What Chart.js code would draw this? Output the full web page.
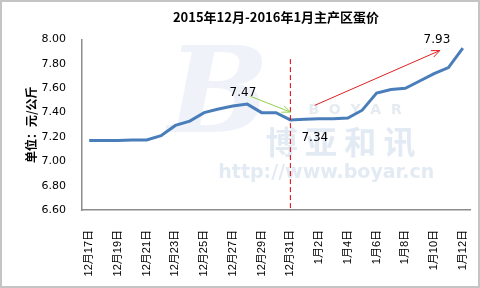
<!DOCTYPE html>
<html>
<head>
<meta charset="utf-8">
<script src="https://cdn.jsdelivr.net/npm/chart.js@4.4.1/dist/chart.umd.min.js"></script>
<style>
  html, body { margin: 0; padding: 0; background: #fff; }
  #wrap { width: 480px; height: 288px; }
</style>
</head>
<body>
<div id="wrap"><canvas id="price"></canvas></div>
<script>
var days = ['12月17日', '12月18日', '12月19日', '12月20日', '12月21日', '12月22日', '12月23日',
    '12月24日', '12月25日', '12月26日', '12月27日', '12月28日', '12月29日', '12月30日', '12月31日',
    '1月1日', '1月2日', '1月3日', '1月4日', '1月5日', '1月6日', '1月7日', '1月8日', '1月9日',
    '1月10日', '1月11日', '1月12日'];
var prices = [7.17, 7.17, 7.17, 7.175, 7.175, 7.21, 7.295, 7.33, 7.40, 7.43, 7.455, 7.47, 7.40, 7.40, 7.34,
    7.345, 7.35, 7.35, 7.355, 7.42, 7.56, 7.59, 7.60, 7.66, 7.72, 7.77, 7.93];
var yTicks = [6.6, 6.8, 7.0, 7.2, 7.4, 7.6, 7.8, 8.0];

// notes drawn over the plot, placed in data space (category index, value)
var notes = [
    { text: '7.47', x: 10.7, y: 7.56 },
    { text: '7.34', x: 15.7, y: 7.19 },
    { text: '7.93', x: 24.2, y: 8.0 }
];
var arrows = [
    { from: [11.2, 7.535], to: [14.0, 7.405], color: '#92d050' },
    { from: [15.7, 7.46], to: [24.4, 7.91], color: '#e02020' }
];
var splitIndex = 14;
var splitTop = 7.84;

function arrow(ctx, x1, y1, x2, y2, color) {
    var a = Math.atan2(y2 - y1, x2 - x1);
    ctx.save();
    ctx.strokeStyle = color;
    ctx.lineWidth = 1;
    ctx.beginPath();
    ctx.moveTo(x1, y1);
    ctx.lineTo(x2, y2);
    ctx.moveTo(x2 - 9 * Math.cos(a - 0.4), y2 - 9 * Math.sin(a - 0.4));
    ctx.lineTo(x2, y2);
    ctx.lineTo(x2 - 9 * Math.cos(a + 0.4), y2 - 9 * Math.sin(a + 0.4));
    ctx.stroke();
    ctx.restore();
}

var watermark = {
    id: 'watermark',
    beforeDatasetsDraw(chart) {
        var ctx = chart.ctx, x = chart.scales.x, y = chart.scales.y;
        ctx.save();
        ctx.font = 'italic bold 120px "DejaVu Serif"';
        ctx.fillStyle = 'rgba(210,222,238,0.35)';
        ctx.textAlign = 'center';
        ctx.textBaseline = 'middle';
        ctx.fillText('B', x.getPixelForValue(9), y.getPixelForValue(7.5));
        ctx.font = 'bold 14px "DejaVu Sans"';
        ctx.fillStyle = 'rgba(220,226,234,0.7)';
        ctx.fillText('B  O  Y  A  R', x.getPixelForValue(18.5), y.getPixelForValue(7.42));
        ctx.font = 'bold 32px "Noto Sans CJK SC"';
        ctx.fillStyle = 'rgba(210,222,236,0.65)';
        ctx.fillText('博 亚 和 讯', x.getPixelForValue(17.5), y.getPixelForValue(7.16));
        ctx.font = 'bold 19px "DejaVu Sans"';
        ctx.fillText('http://www.boyar.cn', x.getPixelForValue(16.5), y.getPixelForValue(6.9));
        ctx.restore();
    }
};

var extras = {
    id: 'extras',
    afterDatasetsDraw(chart) {
        var ctx = chart.ctx, x = chart.scales.x, y = chart.scales.y;
        ctx.save();
        ctx.strokeStyle = '#e00000';
        ctx.lineWidth = 1;
        ctx.setLineDash([5, 3]);
        ctx.beginPath();
        ctx.moveTo(x.getPixelForValue(splitIndex), y.getPixelForValue(splitTop));
        ctx.lineTo(x.getPixelForValue(splitIndex), chart.chartArea.bottom);
        ctx.stroke();
        ctx.setLineDash([]);
        arrows.forEach(function (a) {
            arrow(ctx, x.getPixelForValue(a.from[0]), y.getPixelForValue(a.from[1]),
                x.getPixelForValue(a.to[0]), y.getPixelForValue(a.to[1]), a.color);
        });
        ctx.font = '12px "DejaVu Sans"';
        ctx.fillStyle = '#000';
        ctx.textAlign = 'center';
        ctx.textBaseline = 'middle';
        notes.forEach(function (n) {
            ctx.fillText(n.text, x.getPixelForValue(n.x), y.getPixelForValue(n.y));
        });
        ctx.strokeStyle = '#c4c4c4';
        ctx.lineWidth = 2;
        ctx.strokeRect(1, 1, chart.width - 2, chart.height - 2);
        ctx.restore();
    }
};

new Chart(document.getElementById('price'), {
    type: 'line',
    data: {
        labels: days,
        datasets: [{
            data: prices,
            borderColor: '#4a7ebb',
            borderWidth: 3,
            pointRadius: 0,
            tension: 0
        }]
    },
    options: {
        responsive: true,
        maintainAspectRatio: false,
        animation: false,
        layout: { padding: { left: 12, right: 10, top: 0, bottom: 4 } },
        plugins: {
            legend: { display: false },
            tooltip: { enabled: false },
            title: {
                display: true,
                fullSize: false,
                text: '2015年12月-2016年1月主产区蛋价',
                color: '#000',
                font: { family: '"Noto Sans CJK SC"', size: 13, weight: 'bold' },
                padding: { top: 9, bottom: 15 }
            }
        },
        scales: {
            x: {
                offset: true,
                afterFit: function (s) { s.height = 74; s.paddingRight = 0; s.paddingLeft = 0; },
                grid: { display: false },
                border: { color: '#8c8c8c', width: 1.5 },
                ticks: {
                    autoSkip: false,
                    maxRotation: 90,
                    minRotation: 90,
                    padding: 12,
                    color: '#000',
                    font: { family: '"Liberation Sans", "Noto Sans CJK SC"', size: 11 },
                    callback: function (v, i) { return i % 2 === 0 ? days[i] : ''; }
                }
            },
            y: {
                min: 6.6,
                max: 8.0,
                afterBuildTicks: function (s) { s.ticks = yTicks.map(function (v) { return { value: v }; }); },
                afterFit: function (s) { s.width = 70; },
                grid: { display: false },
                border: { color: '#8c8c8c', width: 1.5 },
                title: {
                    display: true,
                    text: '单位：元/公斤',
                    color: '#000',
                    font: { family: '"Noto Sans CJK SC"', size: 12, weight: 'bold' },
                    padding: { top: 12, bottom: 0 }
                },
                ticks: {
                    padding: 8,
                    color: '#000',
                    font: { family: '"DejaVu Sans"', size: 11 },
                    callback: function (v) { return Number(v).toFixed(2); }
                }
            }
        }
    },
    plugins: [watermark, extras]
});
</script>
</body>
</html>
